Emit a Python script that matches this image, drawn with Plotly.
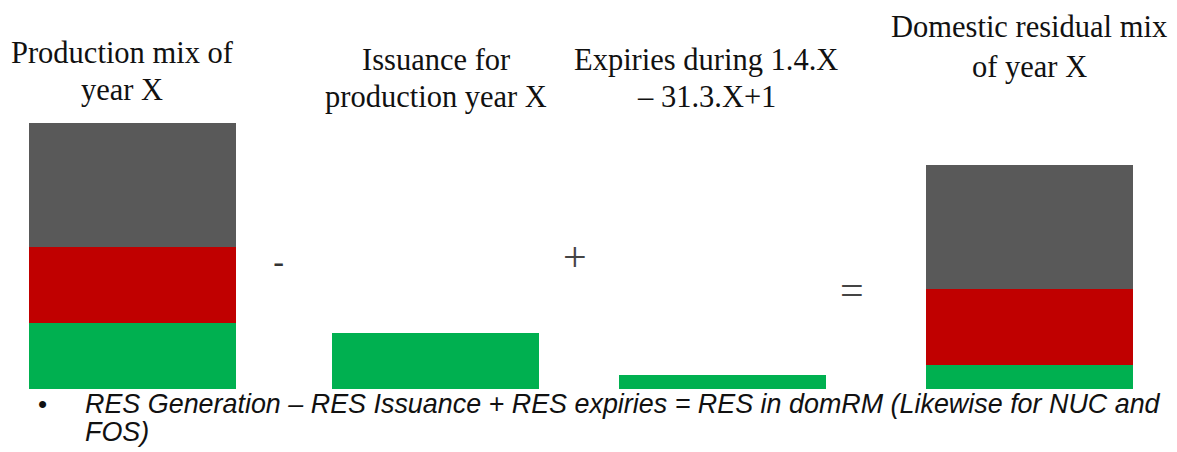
import plotly.graph_objects as go

# Stage labels (two lines each) and the energy-source components
stage_lines = [
    ["Production mix of", "year X"],
    ["Issuance for", "production year X"],
    ["Expiries during 1.4.X", "\u2013 31.3.X+1"],
    ["Domestic residual mix", "of year X"],
]
operators = ["-", "+", "="]

# Component sizes per stage (arbitrary volume units)
res_values = [33, 28, 7, 12]      # renewable (green) in every stage
nuc_values = [38, 38]             # nuclear (red): production mix and residual mix
fos_values = [62, 62]             # fossil (grey): production mix and residual mix

note_lines = [
    "RES Generation \u2013 RES Issuance + RES expiries = RES in domRM (Likewise for NUC and",
    "FOS)",
]

# Layout constants (x in page pixels, y in data units)
W, H = 1177, 452
bar_x = [132, 435.5, 722, 1029.5]
bar_w = 207
stack_x = [bar_x[0], bar_x[3]]

GREEN, RED, GREY = "#00B050", "#C00000", "#595959"

fig = go.Figure()
fig.add_trace(go.Bar(x=bar_x, y=res_values, width=bar_w, marker=dict(color=GREEN, line=dict(width=0)), name="RES"))
fig.add_trace(go.Bar(x=stack_x, y=nuc_values, width=bar_w, marker=dict(color=RED, line=dict(width=0)), name="NUC"))
fig.add_trace(go.Bar(x=stack_x, y=fos_values, width=bar_w, marker=dict(color=GREY, line=dict(width=0)), name="FOS"))


def py(p):
    return 1 - p / H


serif = dict(family="Liberation Serif, Times New Roman, serif", size=30.5, color="#111111")
title_pos = [
    (122, [53, 90]),
    (436, [60, 97]),
    (706, [60, 97]),
    (1029, [27, 67]),
]
annotations = []
for (cx, ys), lines in zip(title_pos, stage_lines):
    for yy, txt in zip(ys, lines):
        annotations.append(dict(x=cx, y=py(yy), xref="x", yref="paper", text=txt, showarrow=False,
                                font=serif, xanchor="center", yanchor="middle"))

op_pos = [(278, 262), (575, 257), (852, 290)]
op_fonts = [
    dict(family="Liberation Sans, Arial, sans-serif", size=34, color="#333333"),
    dict(family="Liberation Serif, Times New Roman, serif", size=42, color="#444444"),
    dict(family="Liberation Serif, Times New Roman, serif", size=42, color="#444444"),
]
for (ox, oy), op, f in zip(op_pos, operators, op_fonts):
    annotations.append(dict(x=ox, y=py(oy), xref="x", yref="paper", text=op, showarrow=False,
                            font=f, xanchor="center", yanchor="middle"))

sans_it = dict(family="Liberation Sans, Arial, sans-serif", size=26.9, color="#111111")
annotations.append(dict(x=42, y=py(404), xref="x", yref="paper", text="\u2022", showarrow=False,
                        font=dict(family="Liberation Sans, Arial, sans-serif", size=26, color="#111111"),
                        xanchor="center", yanchor="middle"))
for yy, txt in zip([404, 432], note_lines):
    annotations.append(dict(x=83, y=py(yy), xref="x", yref="paper", text="<i>" + txt + "</i>",
                            showarrow=False, font=sans_it, xanchor="left", yanchor="middle"))

# 2 px per unit, baseline at page row 389
base_px = 389
fig.update_layout(
    width=W, height=H,
    margin=dict(l=0, r=0, t=0, b=0),
    barmode="stack",
    bargap=0,
    showlegend=False,
    plot_bgcolor="white", paper_bgcolor="white",
    xaxis=dict(range=[0, W], visible=False, fixedrange=True),
    yaxis=dict(range=[-(H - base_px) / 2, base_px / 2], visible=False, fixedrange=True),
    annotations=annotations,
)

fig.write_html("out.html", config={"displayModeBar": False})
